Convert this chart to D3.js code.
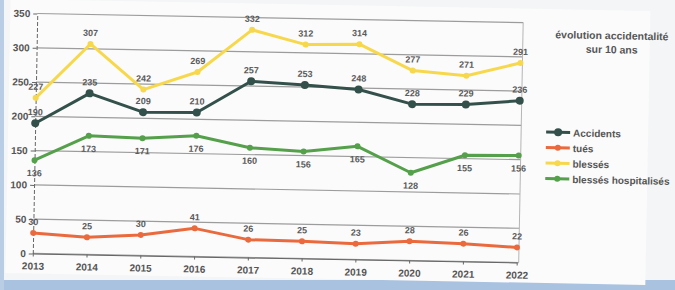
<!DOCTYPE html>
<html>
<head>
<meta charset="utf-8">
<script src="https://cdnjs.cloudflare.com/ajax/libs/d3/7.8.5/d3.min.js"></script>
<style>
  body { margin: 0; background: #eef1f4; }
  svg { display: block; }
  text { font-family: "Liberation Sans", Arial, sans-serif; font-weight: bold; }
</style>
</head>
<body>
<script>
var years = [2013, 2014, 2015, 2016, 2017, 2018, 2019, 2020, 2021, 2022];
var accidents = [190, 235, 209, 210, 257, 253, 248, 228, 229, 236];
var tues = [30, 25, 30, 41, 26, 25, 23, 28, 26, 22];
var blesses = [227, 307, 242, 269, 332, 312, 314, 277, 271, 291];
var hospitalises = [136, 173, 171, 176, 160, 156, 165, 128, 155, 156];
var yTicks = [0, 50, 100, 150, 200, 250, 300, 350];
var seriesNames = ["Accidents", "tués", "blessés", "blessés hospitalisés"];

function init() {
    var w = 675;
    var h = 290;

    var series = [
        { name: seriesNames[0], values: accidents, color: "#33514a", r: 4, below: false },
        { name: seriesNames[1], values: tues, color: "#ea6a3d", r: 3, below: false },
        { name: seriesNames[2], values: blesses, color: "#f7d84c", r: 3, below: false },
        { name: seriesNames[3], values: hospitalises, color: "#55a04a", r: 3, below: true }
    ];

    var svg = d3.select("body")
                .append("svg")
                .attr("width", w)
                .attr("height", h);

    // photo background: light page, blue strip at the bottom
    svg.append("rect")
        .attr("width", w).attr("height", h)
        .attr("fill", "#f3f5f6");
    svg.append("rect")
        .attr("x", 0).attr("y", 280).attr("width", w).attr("height", 10)
        .attr("fill", "#a9c2e0");
    svg.append("rect")
        .attr("x", 0).attr("y", 0).attr("width", 4).attr("height", h)
        .attr("fill", "#b9cde4");

    var xScale = d3.scalePoint()
                    .domain(years)
                    .range([35, 519]);

    var yScale = d3.scaleLinear()
                    .domain([0, 350])
                    .range([258, 18]);

    // the photo is slightly tilted
    var g = svg.append("g")
                .attr("transform", "rotate(1.07, 277, 137)");

    g.append("rect")
        .attr("x", 8).attr("y", 4).attr("width", 640).attr("height", 274)
        .attr("fill", "#fbfbfb");

    // gridlines
    g.selectAll("line.grid")
        .data(yTicks)
        .enter()
        .append("line")
        .attr("class", "grid")
        .attr("x1", xScale(years[0]))
        .attr("x2", xScale(years[years.length - 1]) + 2)
        .attr("y1", function(d) { return yScale(d); })
        .attr("y2", function(d) { return yScale(d); })
        .attr("stroke", "#9c9c9c")
        .attr("stroke-width", 1.2);

    // right border of plot
    g.append("line")
        .attr("x1", xScale(years[years.length - 1]) + 2)
        .attr("x2", xScale(years[years.length - 1]) + 2)
        .attr("y1", yScale(350))
        .attr("y2", yScale(0))
        .attr("stroke", "#b5b5b5");

    var yAxis = d3.axisLeft(yScale)
                    .tickValues(yTicks)
                    .tickSizeInner(4)
                    .tickSizeOuter(0)
                    .tickPadding(3);

    var yG = g.append("g")
        .attr("transform", "translate(" + xScale(years[0]) + ",0)")
        .call(yAxis);
    yG.select(".domain").attr("stroke", "#666").attr("stroke-dasharray", "4,2");
    yG.selectAll(".tick line").attr("stroke", "#666");
    yG.selectAll("text").attr("fill", "#555").attr("font-size", 10);

    var xAxis = d3.axisBottom(xScale)
                    .tickSizeInner(3)
                    .tickSizeOuter(0)
                    .tickPadding(6);

    var xG = g.append("g")
        .attr("transform", "translate(0," + yScale(0) + ")")
        .call(xAxis);
    xG.select(".domain").attr("stroke", "#666");
    xG.selectAll(".tick line").attr("stroke", "#666");
    xG.selectAll("text").attr("fill", "#555").attr("font-size", 10);

    var line = d3.line()
                .x(function(d, i) { return xScale(years[i]); })
                .y(function(d) { return yScale(d); });

    series.forEach(function(s) {
        g.append("path")
            .datum(s.values)
            .attr("fill", "none")
            .attr("stroke", s.color)
            .attr("stroke-width", 3)
            .attr("stroke-linejoin", "round")
            .attr("d", line);

        g.selectAll(null)
            .data(s.values)
            .enter()
            .append("circle")
            .attr("cx", function(d, i) { return xScale(years[i]); })
            .attr("cy", function(d) { return yScale(d); })
            .attr("r", s.r)
            .attr("fill", s.color);

        g.selectAll(null)
            .data(s.values)
            .enter()
            .append("text")
            .text(function(d) { return d; })
            .attr("x", function(d, i) { return xScale(years[i]); })
            .attr("y", function(d) { return yScale(d) + (s.below ? 16 : -8); })
            .attr("text-anchor", "middle")
            .attr("font-size", 9)
            .attr("fill", "#5a5a5a");
    });

    // title
    g.append("text")
        .attr("x", 610).attr("y", 33)
        .attr("text-anchor", "middle")
        .attr("font-size", 10.5)
        .attr("fill", "#555")
        .text("évolution accidentalité");
    g.append("text")
        .attr("x", 610).attr("y", 47)
        .attr("text-anchor", "middle")
        .attr("font-size", 10.5)
        .attr("fill", "#555")
        .text("sur 10 ans");

    // legend
    var legend = g.selectAll("g.legend")
        .data(series)
        .enter()
        .append("g")
        .attr("class", "legend")
        .attr("transform", function(d, i) {
            return "translate(546," + (127 + i * 15.5) + ")";
        });

    legend.append("line")
        .attr("x1", 0).attr("x2", 24)
        .attr("stroke", function(d) { return d.color; })
        .attr("stroke-width", 3);
    legend.append("circle")
        .attr("cx", 12)
        .attr("r", function(d) { return d.r; })
        .attr("fill", function(d) { return d.color; });
    legend.append("text")
        .attr("x", 27)
        .attr("y", 4)
        .attr("font-size", 10)
        .attr("fill", "#555")
        .text(function(d) { return d.name; });
}

window.onload = init;
</script>
</body>
</html>
